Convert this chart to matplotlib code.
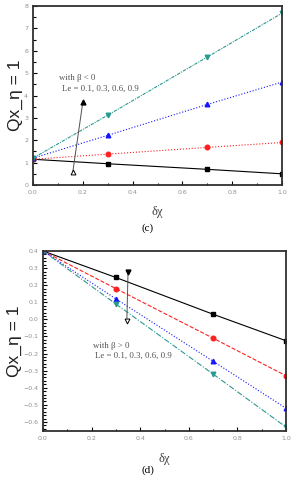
import matplotlib
matplotlib.use("Agg")
import matplotlib.pyplot as plt
from matplotlib.ticker import MultipleLocator

# data
le_values = ["0.1", "0.3", "0.6", "0.9"]
delta_chi = [0.0, 0.3, 0.7, 1.0]

# (c) beta < 0
qc_le01 = [1.15, 0.95, 0.70, 0.50]
qc_le03 = [1.15, 1.38, 1.68, 1.90]
qc_le06 = [1.20, 2.22, 3.60, 4.60]
qc_le09 = [1.20, 3.12, 5.72, 7.68]

# (d) beta > 0
qd_le01 = [0.40, 0.245, 0.03, -0.125]
qd_le03 = [0.40, 0.18, -0.11, -0.33]
qd_le06 = [0.40, 0.12, -0.245, -0.52]
qd_le09 = [0.40, 0.09, -0.32, -0.63]

colors = ["black", "#ff2020", "#1515ff", "#2a9a90"]
markers = ["s", "o", "^", "v"]
styles_c = ["-", ":", ":", (0, (3, 1, 1, 1))]
styles_d = ["-", "--", ":", (0, (5, 1.5, 1, 1.5))]

fig = plt.figure(figsize=(2.96, 4.8), dpi=100)
ax_c = fig.add_axes([33 / 296, 1 - 185 / 480, 249 / 296, 179 / 480])
ax_d = fig.add_axes([43 / 296, 1 - 431 / 480, 243 / 296, 180 / 480])

tick_gray = "#909090"
note_kw = dict(fontsize=6.3, family="Liberation Serif", color="#505050")


def style_axes(ax):
    for s in ax.spines.values():
        s.set_linewidth(1.3)
        s.set_color("#303030")
    ax.tick_params(which="both", direction="in", labelsize=4.5,
                   labelcolor=tick_gray, width=0.8, top=False, right=False)
    ax.tick_params(which="major", length=3)
    ax.tick_params(which="minor", length=1.8)
    ax.set_xlim(0, 1)
    ax.xaxis.set_major_locator(MultipleLocator(0.2))
    ax.xaxis.set_minor_locator(MultipleLocator(0.1))
    ax.set_ylabel("Qx_η = 1", fontsize=12.5, family="Liberation Sans",
                  color="#202020", labelpad=1)
    ax.set_xlabel("δχ", fontsize=9, family="Liberation Serif", color="#404040")
    ax.xaxis.set_label_coords(0.5, -0.12)


series_c = [qc_le01, qc_le03, qc_le06, qc_le09]
for vals, c, m, ls in zip(series_c, colors, markers, styles_c):
    ax_c.plot(delta_chi, vals, color=c, marker=m, ls=ls, lw=0.8, ms=3.3)
style_axes(ax_c)
ax_c.set_ylim(0, 8)
ax_c.yaxis.set_major_locator(MultipleLocator(1))
ax_c.yaxis.set_minor_locator(MultipleLocator(0.5))
ax_c.text(0.105, 4.68, "with β < 0", **note_kw)
ax_c.text(0.115, 4.22, "Le = " + ", ".join(le_values), **note_kw)
ax_c.plot([0.16, 0.2], [0.6, 3.7], color="#505050", lw=0.7)
ax_c.plot([0.16], [0.6], marker="^", color="black", ms=3.5, mfc="white", mew=0.7)
ax_c.plot([0.2], [3.7], marker="^", color="black", ms=3.5)
fig.text(148 / 296, 1 - 228 / 480, "(c)", ha="center", va="center",
         fontsize=8, family="Liberation Serif")

series_d = [qd_le01, qd_le03, qd_le06, qd_le09]
for vals, c, m, ls in zip(series_d, colors, markers, styles_d):
    ax_d.plot(delta_chi, vals, color=c, marker=m, ls=ls, lw=0.8, ms=3.3)
style_axes(ax_d)
ax_d.set_ylim(-0.653, 0.4)
ax_d.yaxis.set_major_locator(MultipleLocator(0.1))
ax_d.yaxis.set_minor_locator(MultipleLocator(0.02))
ax_d.text(0.205, -0.165, "with β > 0", **note_kw)
ax_d.text(0.215, -0.225, "Le = " + ", ".join(le_values), **note_kw)
ax_d.plot([0.35, 0.345], [0.28, -0.01], color="#505050", lw=0.7)
ax_d.plot([0.35], [0.28], marker="v", color="black", ms=3.5)
ax_d.plot([0.345], [-0.01], marker="v", color="black", ms=3.5, mfc="white", mew=0.7)
fig.text(148 / 296, 1 - 470 / 480, "(d)", ha="center", va="center",
         fontsize=8, family="Liberation Serif")

fig.savefig("out.png", dpi=100)
